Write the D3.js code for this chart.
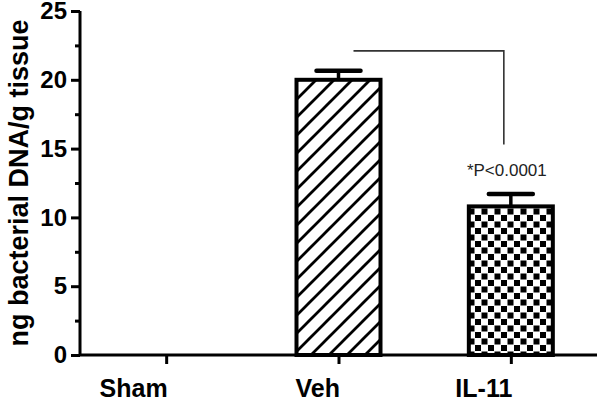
<!DOCTYPE html>
<html>
<head>
<meta charset="utf-8">
<title>Bacterial DNA</title>
<script src="https://d3js.org/d3.v7.min.js"></script>
<style>
  body{ margin:0; background:#fff; }
  svg{ display:block; font-family:"Liberation Sans", Arial, sans-serif; }
  .domain, .tick line{ stroke:#000; stroke-width:3; }
</style>
</head>
<body>
<div id="chart"></div>
<script>
// data
var groups = ['Sham', 'Veh', 'IL-11'];
var means = [0, 20.0, 10.8];
var sems = [0, 0.65, 0.9];
var fills = ['none', 'url(#hatch)', 'url(#checker)'];
var yTicks = [0, 5, 10, 15, 20, 25];
var yMinor = [2.5, 7.5, 12.5, 17.5, 22.5];
var pText = '*P<0.0001';
var bracketTop = 22.1, bracketBottom = 15.3;

var w = 600, h = 400;
var padLeft = 80, padRight = 597, plotTop = 11, base = 355;

var svg = d3.select('#chart').append('svg').attr('width', w).attr('height', h);

var defs = svg.append('defs');
var hatch = defs.append('pattern').attr('id', 'hatch')
    .attr('patternUnits', 'userSpaceOnUse').attr('width', 18).attr('height', 18);
hatch.append('rect').attr('width', 18).attr('height', 18).attr('fill', '#fff');
hatch.append('path').attr('d', 'M-4.5,4.5L4.5,-4.5M0,18L18,0M13.5,22.5L22.5,13.5')
    .attr('stroke', '#000').attr('stroke-width', 2.8);

var checker = defs.append('pattern').attr('id', 'checker')
    .attr('patternUnits', 'userSpaceOnUse').attr('width', 13).attr('height', 13);
checker.append('rect').attr('width', 13).attr('height', 13).attr('fill', '#fff');
checker.append('rect').attr('x', 0.5).attr('y', 0.5).attr('width', 6).attr('height', 6).attr('fill', '#000');
checker.append('rect').attr('x', 7).attr('y', 7).attr('width', 6).attr('height', 6).attr('fill', '#000');

var x = d3.scalePoint().domain(groups).range([padLeft, padRight]).padding(0.5);
var y = d3.scaleLinear().domain([0, 25]).range([base, plotTop]);

var barW = 84;

// bars
svg.selectAll('rect.bar').data(groups).enter().append('rect')
    .attr('class', 'bar')
    .attr('x', function(d){ return x(d) - barW / 2; })
    .attr('y', function(d, i){ return y(means[i]); })
    .attr('width', barW)
    .attr('height', function(d, i){ return base - y(means[i]); })
    .attr('fill', function(d, i){ return fills[i]; })
    .attr('stroke', '#000').attr('stroke-width', 4)
    .style('display', function(d, i){ return means[i] > 0 ? null : 'none'; });

// error bars (upper only)
var err = svg.selectAll('g.err').data(groups.filter(function(d, i){ return means[i] > 0; }))
    .enter().append('g').attr('class', 'err');
err.append('line')
    .attr('x1', function(d){ return x(d); }).attr('x2', function(d){ return x(d); })
    .attr('y1', function(d){ var i = groups.indexOf(d); return y(means[i]); })
    .attr('y2', function(d){ var i = groups.indexOf(d); return y(means[i] + sems[i]); })
    .attr('stroke', '#000').attr('stroke-width', 3.5);
err.append('line')
    .attr('x1', function(d){ return x(d) - 22; }).attr('x2', function(d){ return x(d) + 22; })
    .attr('y1', function(d){ var i = groups.indexOf(d); return y(means[i] + sems[i]); })
    .attr('y2', function(d){ var i = groups.indexOf(d); return y(means[i] + sems[i]); })
    .attr('stroke', '#000').attr('stroke-width', 4.5).attr('stroke-linecap', 'round');

// axes
var yAxis = d3.axisLeft(y).tickValues(yTicks).tickSize(9).tickPadding(4).tickFormat(d3.format('d'));
var yMinorAxis = d3.axisLeft(y).tickValues(yMinor).tickSize(5).tickFormat('');
var xAxis = d3.axisBottom(x).tickSize(9).tickSizeOuter(0);

svg.append('g').attr('transform', 'translate(' + padLeft + ',0)').call(yMinorAxis)
    .select('.domain').remove();
var gy = svg.append('g').attr('transform', 'translate(' + padLeft + ',0)').call(yAxis);
gy.select('.domain').attr('d', 'M0,' + plotTop + 'V' + base);
gy.selectAll('text').attr('fill', '#000').style('font-size', '24px').style('font-weight', 'bold');

var gx = svg.append('g').attr('transform', 'translate(0,' + base + ')').call(xAxis);
gx.select('.domain').attr('d', 'M' + padLeft + ',0H' + padRight);
gx.selectAll('text').attr('fill', '#000').style('font-size', '25px').style('font-weight', 'bold')
    .attr('text-anchor', 'end').attr('x', 1).attr('y', 42).attr('dy', null);

// axis title
svg.append('text')
    .attr('transform', 'translate(28,' + ((plotTop + base) / 2) + ') rotate(-90)')
    .attr('text-anchor', 'middle')
    .style('font-size', '27px').style('font-weight', 'bold')
    .text('ng bacterial DNA/g tissue');

// significance bracket
var bx1 = x('Veh') + 15, bx2 = x('IL-11') - 7;
svg.append('path')
    .attr('d', 'M' + bx1 + ',' + y(bracketTop) + 'H' + bx2 + 'V' + y(bracketBottom))
    .attr('fill', 'none').attr('stroke', '#333').attr('stroke-width', 1.6);
svg.append('text')
    .attr('x', bx2 + 3).attr('y', y(bracketBottom) + 32)
    .attr('text-anchor', 'middle')
    .attr('fill', '#222')
    .style('font-size', '17px')
    .text(pText);
</script>
</body>
</html>
